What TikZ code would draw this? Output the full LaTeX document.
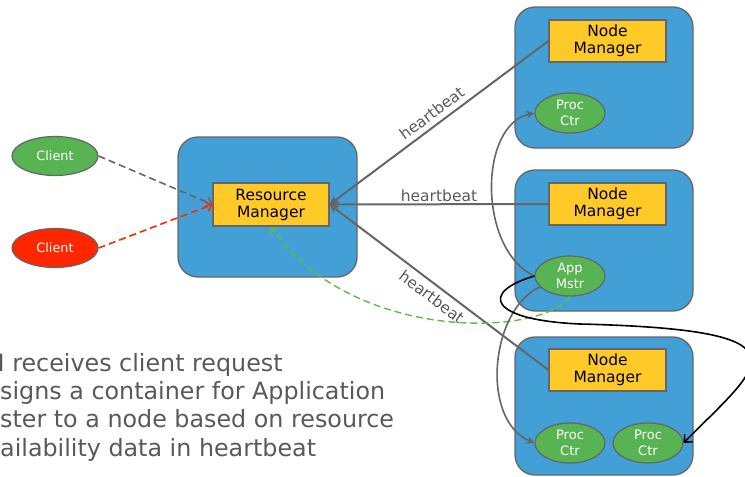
\documentclass[tikz,border=0pt]{standalone}
\usepackage{fontspec}
\setmainfont{DejaVu Sans}
\usetikzlibrary{arrows.meta,shapes.geometric}
\definecolor{boxblue}{RGB}{67,160,215}
\definecolor{mgryellow}{RGB}{255,202,40}
\definecolor{procgreen}{RGB}{88,179,82}
\definecolor{clientred}{RGB}{255,38,0}
\definecolor{edgegray}{RGB}{102,102,102}
\definecolor{textgray}{RGB}{89,89,89}
\definecolor{dashgreen}{RGB}{94,187,70}
\begin{document}
\begin{tikzpicture}[x=1pt,y=-1pt,
    hostbox/.style={draw=edgegray, fill=boxblue, line width=1.3pt,
      rounded corners=20pt, minimum width=178pt, minimum height=140pt,
      inner sep=0pt},
    mgrbox/.style={draw=edgegray, fill=mgryellow, line width=1.2pt,
      minimum width=117pt, minimum height=42pt, inner sep=0pt,
      align=center, font=\fontsize{15.5}{17}\selectfont},
    procnode/.style={ellipse, draw=edgegray, fill=procgreen,
      line width=1.2pt, minimum width=70pt, minimum height=40pt,
      inner sep=0pt, align=center, text=white,
      font=\fontsize{13}{15.5}\selectfont},
    clientnode/.style={ellipse, draw=edgegray, line width=1.2pt,
      minimum width=86pt, minimum height=39pt, inner sep=0pt,
      text=white, font=\fontsize{12.8}{15}\selectfont},
    hb/.style={draw=edgegray, line width=2pt,
      {Stealth[length=9pt,width=9pt]}-},
    hblabel/.style={text=textgray, inner sep=2pt,
      font=\fontsize{15.5}{17}\selectfont},
    req/.style={line width=1.6pt, dash pattern=on 7pt off 4pt,
      -{Straight Barb[length=5pt,width=10pt]}},
    launch/.style={draw=edgegray, line width=1.6pt,
      -{Stealth[length=8pt,width=8pt]}},
    note/.style={text=textgray, anchor=base west, inner sep=0pt,
      font=\fontsize{23.8}{28}\selectfont}]
  \useasboundingbox (0,0) rectangle (745,477);
  \clip (0,0) rectangle (745,477);

  % resource manager side
  \node[clientnode, fill=procgreen] (c1) at (55,156) {Client};
  \node[clientnode, fill=clientred] (c2) at (55,248) {Client};
  \node[hostbox, minimum width=179pt] (rmbox) at (267.5,207) {};
  \node[mgrbox, minimum width=116pt, minimum height=43pt] (rm)
    at (271,204.5) {Resource\\Manager};

  % three hosts
  \node[hostbox, minimum height=141pt] (host1) at (604,77.5) {};
  \node[hostbox, minimum height=141pt] (host2) at (604,240.5) {};
  \node[hostbox, minimum height=138pt] (host3) at (604,406) {};
  \node[mgrbox] (nm1) at (607.5,41) {Node\\Manager};
  \node[mgrbox] (nm2) at (607.5,204) {Node\\Manager};
  \node[mgrbox] (nm3) at (607.5,370) {Node\\Manager};
  \node[procnode] (pc1) at (570,113) {Proc\\Ctr};
  \node[procnode] (am) at (570,276) {App\\Mstr};
  \node[procnode] (pc3) at (570,443) {Proc\\Ctr};
  \node[procnode] (pc4) at (648,443) {Proc\\Ctr};

  % client requests
  \draw[req, edgegray] (c1.east) -- (rm.west);
  \draw[req, clientred] (c2.east) -- (rm.west);

  % heartbeats
  \draw[hb] (rm.east) -- node[hblabel, above=3pt, sloped] {heartbeat} (nm1.west);
  \draw[hb] (rm.east) -- node[hblabel, above] {heartbeat} (nm2.west);
  \draw[hb] (rm.east) -- node[hblabel, below=3pt, sloped] {heartbeat} (nm3.west);

  % app master
  \draw[req, dashgreen, line width=1.4pt] (am.south)
    .. controls (540,338) and (350,342) .. (rm.south);
  \draw[launch] (am.west) .. controls (478,250) and (478,125) .. (pc1.west);
  \draw[launch] (am.200) .. controls (490,310) and (480,420) .. (pc3.west);
  \coordinate (loopmid) at (580,324);
  \draw[line width=1.6pt, -{Straight Barb[length=6pt,width=11pt]}]
    (am.west) .. controls (480,292) and (488,320) .. (loopmid)
    .. controls (820,330) and (760,365) .. (pc4.east);

  % steps text
  \node[note] (line1) at (-16,371) {\llap{R}M receives client request};
  \node[note] (line2) at (0,399) {\llap{As}signs a container for Application};
  \node[note] (line3) at (0,427) {\llap{Ma}ster to a node based on resource};
  \node[note] (line4) at (0,456) {\llap{av}ailability data in heartbeat};
\end{tikzpicture}
\end{document}
